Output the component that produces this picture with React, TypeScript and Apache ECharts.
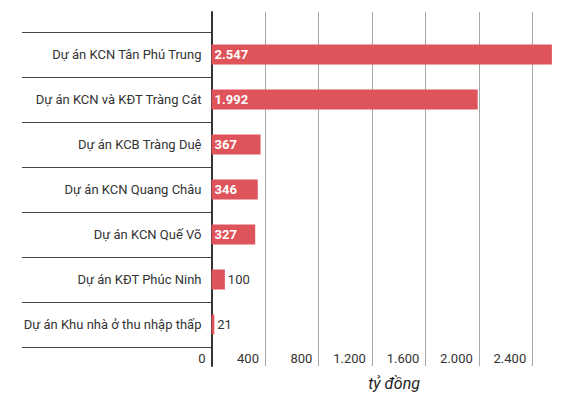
import React, { useEffect, useRef } from "react";
import * as echarts from "echarts";

const categories = [
  "Dự án KCN Tân Phú Trung",
  "Dự án KCN và KĐT Tràng Cát",
  "Dự án KCB Tràng Duệ",
  "Dự án KCN Quang Châu",
  "Dự án KCN Quế Võ",
  "Dự án KĐT Phúc Ninh",
  "Dự án Khu nhà ở thu nhập thấp",
];
const values = [2547, 1992, 367, 346, 327, 100, 21];
const insideLabel = [true, true, true, true, true, false, false];
const axisMin = 0;
const axisMax = 2560;
const axisInterval = 400;
const unitName = "tỷ đồng";

const fmt = (v: number) => String(Math.round(v)).replace(/\B(?=(\d{3})+(?!\d))/g, ".");

const FONT = "Roboto, 'Noto Sans', sans-serif";
const BAR = "#df535a";

export default function App() {
  const ref = useRef<HTMLDivElement>(null);
  useEffect(() => {
    if (!ref.current) return;
    const chart = echarts.init(ref.current, undefined, { renderer: "svg" });
    const L = 211.5;
    const W = 342.1;
    chart.setOption({
      animation: false,
      textStyle: { fontFamily: FONT },
      grid: [
        { left: L, top: 32, width: W, height: 315 },
        { left: L, top: 12, width: W, height: 354 },
        { left: 22, top: 32, width: L - 22, height: 315 },
      ],
      xAxis: [
        {
          gridIndex: 0,
          type: "value",
          min: axisMin,
          max: axisMax,
          interval: axisInterval,
          axisLine: { show: false },
          axisTick: { show: false },
          splitLine: { show: false },
          axisLabel: {
            align: "right",
            padding: [0, 6, 0, 0],
            margin: 5,
            fontSize: 13,
            color: "#333",
            fontFamily: FONT,
            showMaxLabel: false,
            formatter: (v: number) => fmt(v),
          },
          name: unitName,
          nameLocation: "middle",
          nameGap: 28,
          nameTextStyle: {
            fontSize: 16,
            fontStyle: "italic",
            color: "#222",
            fontFamily: FONT,
            padding: [0, 0, 0, 23],
          },
        },
        {
          gridIndex: 1,
          type: "value",
          min: axisMin,
          max: axisMax,
          interval: axisInterval,
          axisLine: { show: false },
          axisTick: { show: false },
          axisLabel: { show: false },
          splitLine: { show: true, showMaxLine: false, lineStyle: { color: "#a8a8a8", width: 1 } },
        },
        {
          gridIndex: 2,
          type: "value",
          show: false,
          min: 0,
          max: 1,
        },
      ],
      yAxis: [
        {
          gridIndex: 0,
          type: "category",
          inverse: true,
          data: categories,
          axisLine: { show: false },
          axisTick: { show: false },
          splitLine: { show: false },
          axisLabel: { margin: 10, fontSize: 13, color: "#333", fontFamily: FONT },
        },
        {
          gridIndex: 1,
          type: "value",
          min: 0,
          max: 1,
          axisLine: { show: true, lineStyle: { color: "#333", width: 2 } },
          axisTick: { show: false },
          axisLabel: { show: false },
          splitLine: { show: false },
        },
        {
          gridIndex: 2,
          type: "category",
          inverse: true,
          data: categories,
          axisLine: { show: false },
          axisTick: { show: false },
          axisLabel: { show: false },
          splitLine: { show: true, lineStyle: { color: "#444", width: 1 } },
        },
      ],
      series: [
        {
          type: "bar",
          xAxisIndex: 0,
          yAxisIndex: 0,
          barWidth: 20,
          itemStyle: { color: BAR },
          data: values.map((v, i) => ({
            value: v,
            label: insideLabel[i]
              ? {
                  show: true,
                  position: "insideLeft",
                  distance: 3,
                  color: "#fff",
                  fontWeight: "bold",
                  fontSize: 13,
                  fontFamily: FONT,
                  formatter: (p: any) => fmt(p.value),
                }
              : {
                  show: true,
                  position: "right",
                  distance: 3,
                  color: "#333",
                  fontSize: 13,
                  fontFamily: FONT,
                  formatter: (p: any) => fmt(p.value),
                },
          })),
        },
      ],
    });
    return () => chart.dispose();
  }, []);
  return (
    <div
      ref={ref}
      style={{ position: "fixed", left: 0, top: 0, width: 570, height: 419, background: "#fff" }}
    />
  );
}
